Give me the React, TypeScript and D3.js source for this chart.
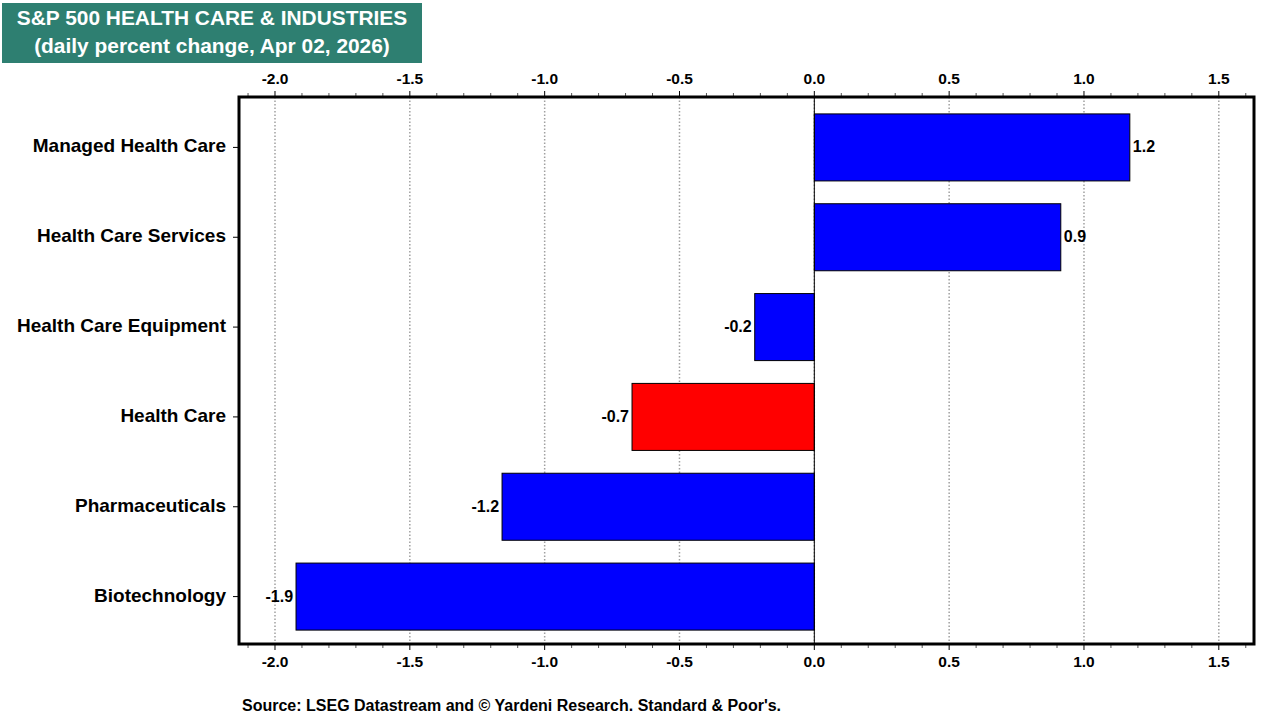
import React from "react";
import * as d3 from "d3";

const categories = [
  "Managed Health Care",
  "Health Care Services",
  "Health Care Equipment",
  "Health Care",
  "Pharmaceuticals",
  "Biotechnology",
];
const values = [1.17, 0.914, -0.221, -0.676, -1.158, -1.922];
const labels = ["1.2", "0.9", "-0.2", "-0.7", "-1.2", "-1.9"];
const highlight = ["Health Care"];
const majorTicks = [-2.0, -1.5, -1.0, -0.5, 0.0, 0.5, 1.0, 1.5];
const titleLines = [
  "S&P 500 HEALTH CARE & INDUSTRIES",
  "(daily percent change, Apr 02, 2026)",
];
const sourceText = "Source: LSEG Datastream and \u00a9 Yardeni Research. Standard & Poor's.";

const W = 1280;
const H = 720;
const left = 239;
const right = 1254;
const top = 97;
const bottom = 644;

const fmt = (v: number) => d3.format(".1f")(v).replace("\u2212", "-");

export default function App() {
  const x = d3.scaleLinear().domain([-2.1335, 1.6305]).range([left, right]);
  const y = d3
    .scaleBand<string>()
    .domain(categories)
    .range([102.5, 641.5])
    .paddingInner(0.254)
    .paddingOuter(0.127);
  const minorTicks = d3.range(-21, 17).map((d) => d / 10).filter((d) => Math.abs((d * 10) % 5) > 0.01);
  const font = "Arial, 'Liberation Sans', sans-serif";

  return (
    <svg width={W} height={H} style={{ position: "absolute", left: 0, top: 0 }} fontFamily={font}>
      <rect x={0} y={0} width={W} height={H} fill="#fff" />
      {/* title */}
      <rect x={2} y={3} width={420} height={60} fill="#2E7F71" />
      {titleLines.map((t, i) => (
        <text key={i} x={212} y={25 + i * 28} textAnchor="middle" fill="#fff" fontWeight="bold" fontSize={20.9}>
          {t}
        </text>
      ))}
      {/* gridlines */}
      {majorTicks.map((t) => (
        <line key={"g" + t} x1={x(t)} x2={x(t)} y1={top} y2={bottom} stroke="#a0a0a0" strokeWidth={1.5} strokeDasharray="1.5,2" />
      ))}
      {/* bars */}
      {categories.map((c, i) => {
        const v = values[i];
        const x0 = x(Math.min(0, v));
        const x1 = x(Math.max(0, v));
        return (
          <rect
            key={c}
            x={x0}
            y={y(c)}
            width={x1 - x0}
            height={y.bandwidth()}
            fill={highlight.includes(c) ? "#FF0000" : "#0000FF"}
            stroke="#000"
            strokeWidth={1}
          />
        );
      })}
      {/* zero line */}
      <line x1={x(0)} x2={x(0)} y1={top} y2={bottom} stroke="#000" strokeWidth={1} />
      {/* value labels */}
      {categories.map((c, i) => {
        const v = values[i];
        const cy = (y(c) as number) + y.bandwidth() / 2;
        return (
          <text
            key={"v" + c}
            x={v >= 0 ? x(v) + 3 : x(v) - 3}
            y={cy + 5}
            textAnchor={v >= 0 ? "start" : "end"}
            fontWeight="bold"
            fontSize={16}
            fill="#000"
          >
            {labels[i]}
          </text>
        );
      })}
      {/* category labels + ticks */}
      {categories.map((c) => {
        const cy = (y(c) as number) + y.bandwidth() / 2;
        return (
          <g key={"c" + c}>
            <line x1={left - 6} x2={left} y1={cy} y2={cy} stroke="#000" strokeWidth={1} />
            <text x={226} y={cy + 5} textAnchor="end" fontWeight="bold" fontSize={19}>
              {c}
            </text>
          </g>
        );
      })}
      {/* axis ticks */}
      {majorTicks.map((t) => (
        <g key={"t" + t}>
          <line x1={x(t)} x2={x(t)} y1={top - 6} y2={top} stroke="#000" strokeWidth={1} />
          <line x1={x(t)} x2={x(t)} y1={bottom} y2={bottom + 6} stroke="#000" strokeWidth={1} />
          <text x={x(t)} y={top - 13} textAnchor="middle" fontWeight="bold" fontSize={15.5}>
            {fmt(t)}
          </text>
          <text x={x(t)} y={bottom + 23} textAnchor="middle" fontWeight="bold" fontSize={15.5}>
            {fmt(t)}
          </text>
        </g>
      ))}
      {minorTicks.map((t) => (
        <g key={"m" + t}>
          <line x1={x(t)} x2={x(t)} y1={top - 4} y2={top} stroke="#555" strokeWidth={1} />
          <line x1={x(t)} x2={x(t)} y1={bottom} y2={bottom + 4} stroke="#555" strokeWidth={1} />
        </g>
      ))}
      {/* frame */}
      <rect x={left} y={top} width={right - left} height={bottom - top} fill="none" stroke="#000" strokeWidth={3} />
      {/* source */}
      <text x={242} y={711} fontWeight="bold" fontSize={16}>
        {sourceText}
      </text>
    </svg>
  );
}
